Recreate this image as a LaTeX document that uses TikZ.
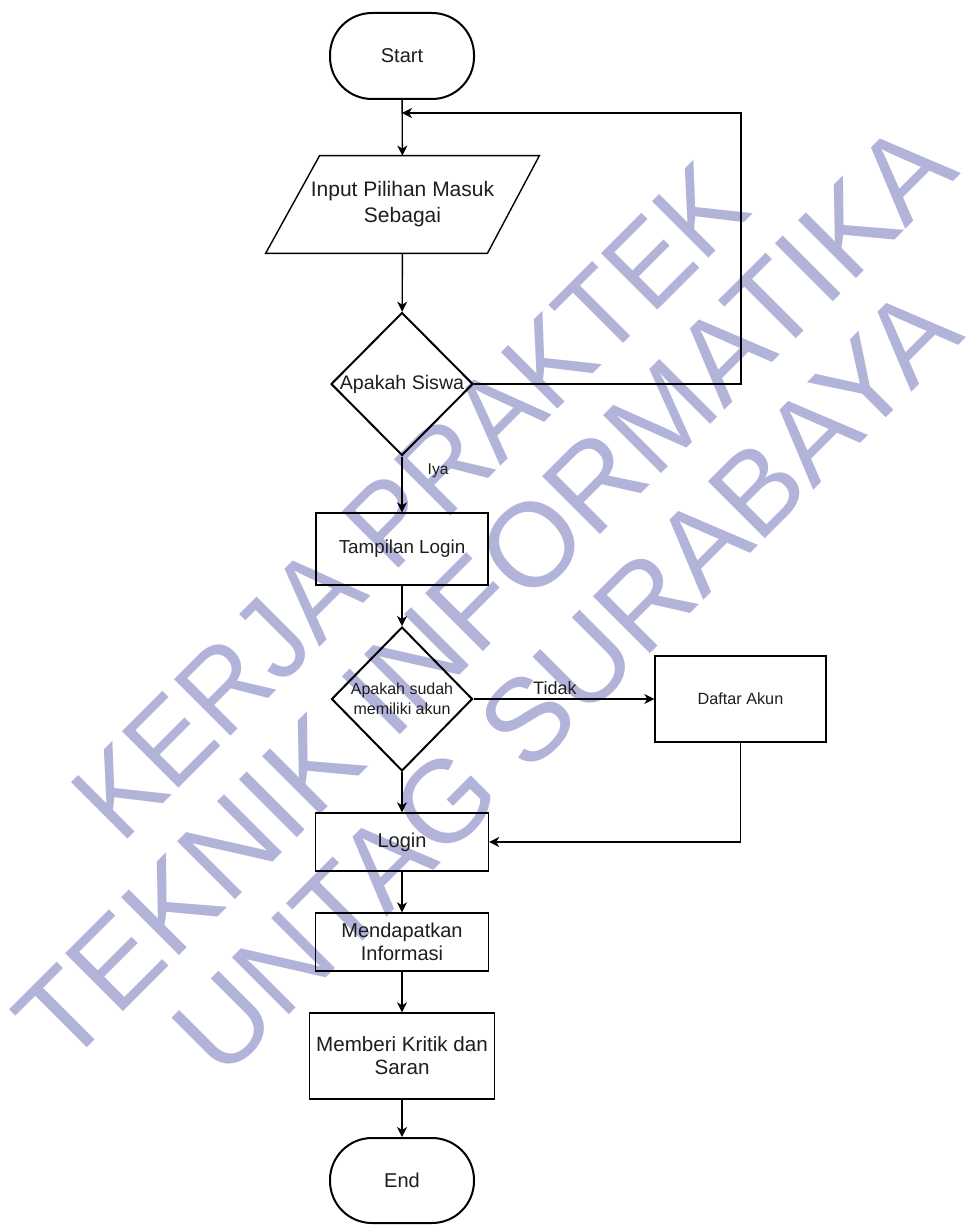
\documentclass[tikz,border=0pt]{standalone}
\usepackage{fontspec}
\setmainfont{Liberation Sans}
\usetikzlibrary{shapes.geometric,arrows.meta,calc}
\definecolor{wm}{RGB}{178,179,217}
\definecolor{ink}{RGB}{30,30,30}
\begin{document}
\begin{tikzpicture}[x=0.5pt,y=-0.5pt,
  txt/.style={text=ink, font=\fontsize{10}{11.5}\selectfont, align=center, inner sep=0pt},
  base/.style={txt, draw=black, line width=0.7pt},
  term/.style={base, line width=1pt, rounded corners=21pt, minimum width=72pt, minimum height=43pt},
  proc/.style={base, rectangle},
  dec/.style={base, diamond, line width=1pt, inner sep=0pt},
  arr/.style={draw=black, line width=0.7pt, -{Stealth[length=5pt,width=5pt,inset=1.5pt]}},
  wmk/.style={text=wm, font=\fontsize{58}{60}\selectfont, rotate=45, inner sep=0pt, anchor=base west}]
\useasboundingbox[fill=white] (0,0) rectangle (976,1225);
% watermark
\node[wmk] (w1) at (121,846) {\scalebox{0.945}[1]{KERJA PRAKTEK}};
\node[wmk, font=\fontsize{59.5}{60}\selectfont] (w2) at (65,1070) {TEKNIK INFORMATIKA};
\node[wmk, font=\fontsize{58.5}{60}\selectfont] (w3) at (222,1082) {UNTAG SURABAYA};
% nodes
\node[term] (start) at (402,56) {Start};
\node[txt, minimum width=136.5pt, minimum height=48.5pt, font=\fontsize{10.5}{13}\selectfont] (inp) at (402.5,204.5) {Input Pilihan Masuk\\Sebagai};
\draw[line width=0.7pt] ($(inp.north west)+(54,0)$) -- (inp.north east) -- ($(inp.south east)+(-52,0)$) -- (inp.south west) -- cycle;
\node[dec, minimum width=71pt, minimum height=71.5pt,
  label={[txt, font=\fontsize{9.8}{11}\selectfont]center:Apakah Siswa}] (d1) at (402,384) {};
\node[proc, minimum width=86pt, minimum height=36pt, font=\fontsize{9.4}{11}\selectfont] (tl) at (402,549) {Tampilan Login};
\node[dec, minimum width=70.5pt, minimum height=72pt,
  label={[txt, font=\fontsize{8}{10}\selectfont]center:Apakah sudah\\memiliki akun}] (d2) at (402,699) {};
\node[proc, minimum width=85.5pt, minimum height=43pt, font=\fontsize{8.1}{10}\selectfont] (daftar) at (740.5,699) {Daftar Akun};
\node[proc, minimum width=86.5pt, minimum height=29pt] (login) at (402,842) {Login};
\node[proc, minimum width=86.5pt, minimum height=29pt] (mend) at (402,942) {Mendapatkan\\Informasi};
\node[proc, minimum width=92.5pt, minimum height=43pt, font=\fontsize{10.3}{11.5}\selectfont] (kritik) at (402,1056) {Memberi Kritik dan\\Saran};
\node[term, minimum height=42.5pt] (end) at (402,1180.5) {End};
% connectors
\coordinate (lc) at (741,113);
\draw[arr] (start) -- (inp);
\draw[arr] (inp) -- (d1);
\draw[arr] (d1.east) -| (lc) -- (lc -| start);
\draw[arr] (d1) -- node[txt, pos=0.26, anchor=west, xshift=12.5pt, font=\fontsize{7.8}{9}\selectfont] {Iya} (tl);
\draw[arr] (tl) -- (d2);
\draw[arr] (d2) -- node[txt, pos=0.45, above=2pt, font=\fontsize{9}{10}\selectfont] {Tidak} (daftar);
\draw[arr] (d2) -- (login);
\draw[arr] (daftar.south) |- (login.east);
\draw[arr] (login) -- (mend);
\draw[arr] (mend) -- (kritik);
\draw[arr] (kritik) -- (end);
\end{tikzpicture}
\end{document}
